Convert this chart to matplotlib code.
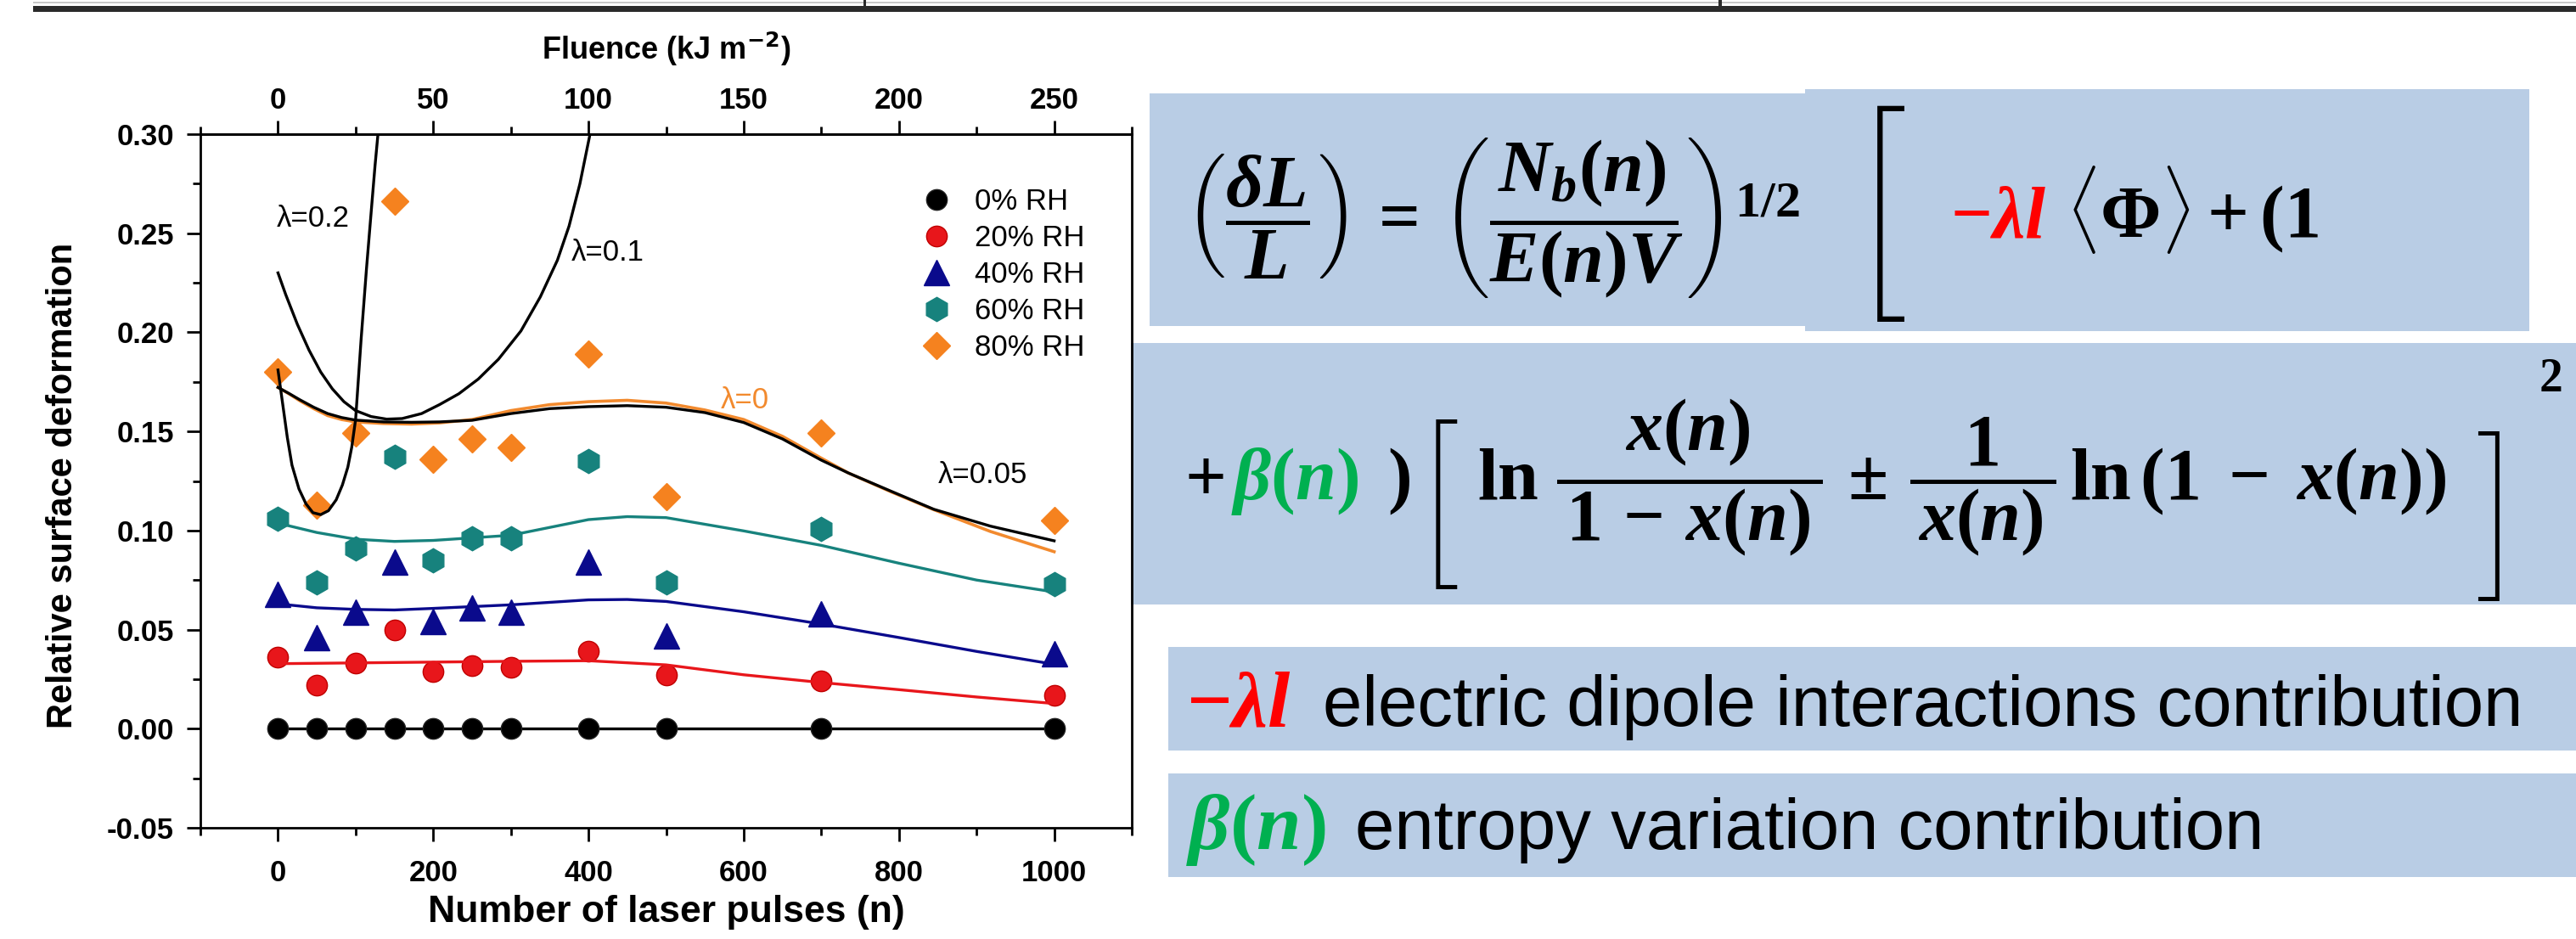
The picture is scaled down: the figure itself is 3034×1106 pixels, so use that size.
import matplotlib
matplotlib.use("Agg")
import matplotlib.pyplot as plt
from matplotlib import font_manager
from matplotlib.font_manager import FontProperties
from matplotlib.patches import Rectangle
from matplotlib.ticker import MultipleLocator, FormatStrFormatter

W, H, DPI = 3034, 1106, 100

# ---------------- data ----------------
pulses = [0, 50, 100, 150, 200, 250, 300, 400, 500, 700, 1000]
rh_labels = ["0% RH", "20% RH", "40% RH", "60% RH", "80% RH"]
rh_0 = [0.000, 0.000, 0.000, 0.000, 0.000, 0.000, 0.000, 0.000, 0.000, 0.000, 0.000]
rh_20 = [0.036, 0.022, 0.033, 0.050, 0.029, 0.032, 0.031, 0.039, 0.027, 0.024, 0.017]
rh_40 = [0.068, 0.046, 0.059, 0.084, 0.054, 0.061, 0.059, 0.084, 0.047, 0.058, 0.038]
rh_60 = [0.106, 0.074, 0.091, 0.137, 0.085, 0.096, 0.096, 0.135, 0.074, 0.101, 0.073]
rh_80 = [0.180, 0.113, 0.149, 0.266, 0.136, 0.146, 0.142, 0.189, 0.117, 0.149, 0.105]

fit20_n = [0, 100, 200, 300, 400, 500, 600, 700, 800, 900, 1000]
fit20_y = [0.0328, 0.0332, 0.0336, 0.0340, 0.0343, 0.0322, 0.0272, 0.0233, 0.0197, 0.0160, 0.0127]

fit40_n = [0, 50, 100, 150, 200, 300, 400, 450, 500, 600, 700, 800, 900, 1000]
fit40_y = [0.0630, 0.0610, 0.0602, 0.0599, 0.0607, 0.0625, 0.0650, 0.0652, 0.0642, 0.0590,
           0.0528, 0.0460, 0.0390, 0.0325]

fit60_n = [0, 50, 100, 150, 200, 300, 400, 450, 500, 600, 700, 800, 900, 1000]
fit60_y = [0.1037, 0.0990, 0.0956, 0.0945, 0.0950, 0.0976, 0.1055, 0.1070, 0.1065, 0.0998,
           0.0925, 0.0835, 0.0750, 0.0690]

lam_n = [0, 14, 28, 46, 64, 82, 100, 136, 172, 208, 250, 300, 350, 400, 450, 500, 550, 600,
         650, 700, 735, 790, 845, 918, 1000]
lam0_y = [0.1722, 0.1690, 0.1655, 0.1615, 0.1580, 0.1560, 0.1548, 0.1540, 0.1537, 0.1543,
          0.1560, 0.1605, 0.1635, 0.1650, 0.1657, 0.1643, 0.1608, 0.1560, 0.1475, 0.1365,
          0.1290, 0.1195, 0.1105, 0.0995, 0.0893]
lam005_y = [0.1722, 0.1692, 0.1660, 0.1622, 0.1590, 0.1570, 0.1557, 0.1548, 0.1546, 0.1548,
            0.1556, 0.1590, 0.1615, 0.1625, 0.1630, 0.1622, 0.1595, 0.1545, 0.1462, 0.1355,
            0.1290, 0.1198, 0.1107, 0.1022, 0.0948]

lam02_n = [0, 6, 12, 18, 27, 36, 45, 55, 65, 75, 83, 90, 95, 100, 103.5, 107, 110.5, 114,
           118, 121.6, 125, 128.8]
lam02_y = [0.181, 0.164, 0.147, 0.133, 0.121, 0.1135, 0.109, 0.108, 0.110, 0.1155, 0.123,
           0.132, 0.142, 0.156, 0.176, 0.196, 0.214, 0.232, 0.251, 0.268, 0.284, 0.300]

lam01_n = [0, 10, 25, 40, 55, 70, 85, 100, 120, 140, 160, 185, 208, 233, 258, 284, 313,
           338, 360, 375, 389, 402]
lam01_y = [0.230, 0.219, 0.204, 0.191, 0.180, 0.1715, 0.1650, 0.1605, 0.1575, 0.1562, 0.1565,
           0.1590, 0.1635, 0.1690, 0.1764, 0.1864, 0.2007, 0.2179, 0.2364, 0.2536, 0.275, 0.300]

fluence_ticks = [0, 50, 100, 150, 200, 250]

# ---------------- style ----------------
plt.rcParams['font.family'] = ['Liberation Sans', 'DejaVu Sans']
plt.rcParams['font.weight'] = 'bold'
plt.rcParams['mathtext.fontset'] = 'custom'
plt.rcParams['mathtext.rm'] = 'Liberation Serif:bold'
plt.rcParams['mathtext.bf'] = 'Liberation Serif:bold'
plt.rcParams['mathtext.it'] = 'Liberation Serif:italic:bold'
plt.rcParams['mathtext.sf'] = 'Liberation Sans:bold'

C_BLACK = '#000000'
C_RED = '#E8161B'
C_NAVY = '#0A0A8C'
C_TEAL = '#17827D'
C_ORANGE = '#F5821F'
C_LAM0 = '#F28A2E'
C_BOX = '#B9CDE5'
C_EQRED = '#FF0000'
C_EQGREEN = '#00B050'

avail = {f.name for f in font_manager.fontManager.ttflist}
if 'Liberation Sans Narrow' in avail:
    TXT_FAMILY, TXT_SIZE = 'Liberation Sans Narrow', 63
else:
    TXT_FAMILY, TXT_SIZE = 'Liberation Sans', 60


def lightest_font():
    best = None
    for f in font_manager.fontManager.ttflist:
        if f.name in ('Roboto', 'Lato', 'Open Sans', 'Inter', 'Noto Sans', 'DejaVu Sans') \
                and f.style == 'normal':
            w = f.weight if isinstance(f.weight, (int, float)) else \
                font_manager.weight_dict.get(f.weight, 400)
            if best is None or w < best[0]:
                best = (w, f.fname)
    return best[1] if best else None


THIN = lightest_font()


def fx(x):
    return x / W


def fy(y):
    return 1 - y / H


fig = plt.figure(figsize=(W / DPI, H / DPI), dpi=DPI)
fig.patch.set_facecolor('white')

# ---------------- decorative table edge at top ----------------
fig.add_artist(Rectangle((fx(39), fy(14)), fx(3034) - fx(39), fy(7) - fy(14),
                         transform=fig.transFigure, facecolor='#2a2a2a', edgecolor='none', zorder=-4))
fig.add_artist(Rectangle((fx(39), fy(4)), fx(3034) - fx(39), fy(2) - fy(4),
                         transform=fig.transFigure, facecolor='#c8c8c8', edgecolor='none', zorder=-4))
for xv in (1018, 2026):
    fig.add_artist(Rectangle((fx(xv - 1.5), fy(14)), fx(3), fy(0) - fy(14),
                             transform=fig.transFigure, facecolor='#2a2a2a', edgecolor='none', zorder=-4))

# ---------------- light blue boxes ----------------
boxes = [(1354, 110, 2126, 384), (2126, 105, 2979, 390), (1332, 404, 3034, 712),
         (1376, 762, 3034, 884), (1376, 911, 3034, 1033)]
for x0, y0, x1, y1 in boxes:
    fig.add_artist(Rectangle((fx(x0), fy(y1)), fx(x1) - fx(x0), fy(y0) - fy(y1),
                             transform=fig.transFigure, facecolor=C_BOX, edgecolor='none', zorder=-5))

# ---------------- chart ----------------
ax = fig.add_axes([fx(236), fy(975), fx(1333) - fx(236), fy(158) - fy(975)])
ax.patch.set_alpha(0)
ax.set_xlim(-100, 1100)
ax.set_ylim(-0.05, 0.30)

ax.plot(pulses, rh_0, color=C_BLACK, lw=2.4, zorder=2)
ax.plot(fit20_n, fit20_y, color=C_RED, lw=2.4, zorder=3)
ax.plot(fit40_n, fit40_y, color=C_NAVY, lw=2.4, zorder=3)
ax.plot(fit60_n, fit60_y, color=C_TEAL, lw=2.4, zorder=3)

ms = dict(ls='none', zorder=2.5)
ax.plot(pulses, rh_0, marker='o', ms=17.5, mfc=C_BLACK, mec='#222222', label=rh_labels[0], **ms)
ax.plot(pulses, rh_20, marker='o', ms=17.5, mfc=C_RED, mec='#c00000', label=rh_labels[1], **ms)
ax.plot(pulses, rh_40, marker='^', ms=21, mfc=C_NAVY, mec=C_NAVY, label=rh_labels[2], **ms)
ax.plot(pulses, rh_60, marker='h', ms=20.5, mfc=C_TEAL, mec=C_TEAL, label=rh_labels[3], **ms)
ax.plot(pulses, rh_80, marker='D', ms=16.5, mfc=C_ORANGE, mec=C_ORANGE, label=rh_labels[4], **ms)

ax.plot(lam_n, lam0_y, color=C_LAM0, lw=2.6, zorder=4)
ax.plot(lam_n, lam005_y, color=C_BLACK, lw=2.4, zorder=4.1)
ax.plot(lam02_n, lam02_y, color=C_BLACK, lw=2.4, zorder=4.1)
ax.plot(lam01_n, lam01_y, color=C_BLACK, lw=2.4, zorder=4.1)

lab = dict(fontsize=25, fontweight='normal', ha='center', va='center', zorder=5)
ax.text(45.6, 0.2575, 'λ=0.2', color=C_BLACK, **lab)
ax.text(425, 0.2401, 'λ=0.1', color=C_BLACK, **lab)
ax.text(602, 0.1656, 'λ=0', color=C_LAM0, **lab)
ax.text(908, 0.1279, 'λ=0.05', color=C_BLACK, **lab)

ax.xaxis.set_major_locator(MultipleLocator(200))
ax.xaxis.set_minor_locator(MultipleLocator(100))
ax.yaxis.set_major_locator(MultipleLocator(0.05))
ax.yaxis.set_minor_locator(MultipleLocator(0.025))
ax.yaxis.set_major_formatter(FormatStrFormatter('%.2f'))
ax.tick_params(which='major', direction='out', length=11.5, width=2.0, labelsize=25)
ax.tick_params(which='minor', direction='out', length=6.5, width=2.0)
ax.tick_params(axis='x', which='major', pad=15)
ax.tick_params(axis='y', which='major', pad=11)
ax.tick_params(right=False, top=False, which='both')
for sp in ax.spines.values():
    sp.set_linewidth(2.0)

sec = ax.secondary_xaxis('top', functions=(lambda n: n / 4.0, lambda f: f * 4.0))
sec.set_xticks(fluence_ticks)
sec.xaxis.set_minor_locator(MultipleLocator(25))
sec.tick_params(which='major', direction='out', length=11.5, width=2.0, labelsize=25, pad=5)
sec.tick_params(which='minor', direction='out', length=6.5, width=2.0)
sec.spines['top'].set_linewidth(2.0)
sec.set_xlabel(r'Fluence (kJ m$^{\mathbf{-2}}$)', fontsize=26, fontweight='bold',
               math_fontfamily='dejavusans')
sec.xaxis.set_label_coords(fx(784.5), fy(70), transform=fig.transFigure)
sec.xaxis.label.set_verticalalignment('baseline')

ax.set_xlabel('Number of laser pulses (n)', fontsize=32, fontweight='bold')
ax.xaxis.set_label_coords(fx(784.5), fy(1054), transform=fig.transFigure)
ax.set_ylabel('Relative surface deformation', fontsize=30, fontweight='bold')
ax.yaxis.set_label_coords(fx(94), fy(572), transform=fig.transFigure)

ax.legend(loc='upper left', bbox_to_anchor=(fx(1085.6), fy(221)), bbox_transform=fig.transFigure,
          frameon=False, prop=FontProperties(family='Liberation Sans', size=25, weight='normal'),
          handlelength=1.0, handletextpad=0.8, labelspacing=0.29, borderpad=0,
          borderaxespad=0, numpoints=1)

# ---------------- equations ----------------
EQ = 62
fig.text(fx(1395), fy(283), r'$\left(\dfrac{\delta L}{L}\right)\,=\,\left(\dfrac{N_b(n)}{E(n)V}\right)^{1/2}$',
         fontsize=EQ, ha='left', va='baseline', color='black')
fig.text(fx(2297), fy(280), r'$-\lambda l$', fontsize=EQ, ha='left', va='baseline', color=C_EQRED)
fig.text(fx(2433), fy(280), r'$\langle\Phi\rangle+(1$', fontsize=EQ, ha='left', va='baseline', color='black')

if THIN:
    bprop1 = FontProperties(fname=THIN, size=202)
    bprop2 = FontProperties(fname=THIN, size=158)
else:
    bprop1 = FontProperties(family='Liberation Serif', size=202)
    bprop2 = FontProperties(family='Liberation Serif', size=158)
fig.text(fx(2176), fy(268), '[', fontproperties=bprop1, ha='left', va='center', color='black')
fig.text(fx(1664), fy(607), '[', fontproperties=bprop2, ha='left', va='center', color='black')
fig.text(fx(2970), fy(621), ']', fontproperties=bprop2, ha='right', va='center', color='black')

BL2 = 588
fig.text(fx(1395), fy(BL2), r'$+$', fontsize=EQ, ha='left', va='baseline', color='black')
fig.text(fx(1450), fy(BL2), r'$\beta(n)$', fontsize=EQ, ha='left', va='baseline', color=C_EQGREEN)
fig.text(fx(1634), fy(BL2), r'$)$', fontsize=EQ, ha='left', va='baseline', color='black')
fig.text(fx(1740), fy(BL2), r'$\ln$', fontsize=EQ, ha='left', va='baseline', color='black')
fig.text(fx(1990), fy(BL2), r'$\dfrac{x(n)}{\,1\,-\,x(n)\,}$', fontsize=EQ, ha='center', va='baseline',
         color='black')
fig.text(fx(2199), fy(BL2), r'$\pm$', fontsize=EQ, ha='center', va='baseline', color='black')
fig.text(fx(2335), fy(BL2), r'$\dfrac{1}{\,x(n)\,}$', fontsize=EQ, ha='center', va='baseline', color='black')
fig.text(fx(2438), fy(BL2), r'$\ln\left(1\;-\;x(n)\right)$', fontsize=EQ, ha='left', va='baseline',
         color='black')
fig.text(fx(2990), fy(447), r'$2$', fontsize=40, ha='left', va='center', color='black')

# ---------------- description rows ----------------
fig.text(fx(1397), fy(855), r'$-\lambda l$', fontsize=68, ha='left', va='baseline', color=C_EQRED)
fig.text(fx(1558), fy(855), 'electric dipole interactions contribution', family=TXT_FAMILY,
         fontsize=TXT_SIZE, fontweight='normal', ha='left', va='baseline', color='black')
fig.text(fx(1397), fy(1000), r'$\beta(n)$', fontsize=68, ha='left', va='baseline', color=C_EQGREEN)
fig.text(fx(1596), fy(1000), 'entropy variation contribution', family=TXT_FAMILY,
         fontsize=TXT_SIZE, fontweight='normal', ha='left', va='baseline', color='black')

fig.savefig('out.png', dpi=DPI, facecolor='white')
